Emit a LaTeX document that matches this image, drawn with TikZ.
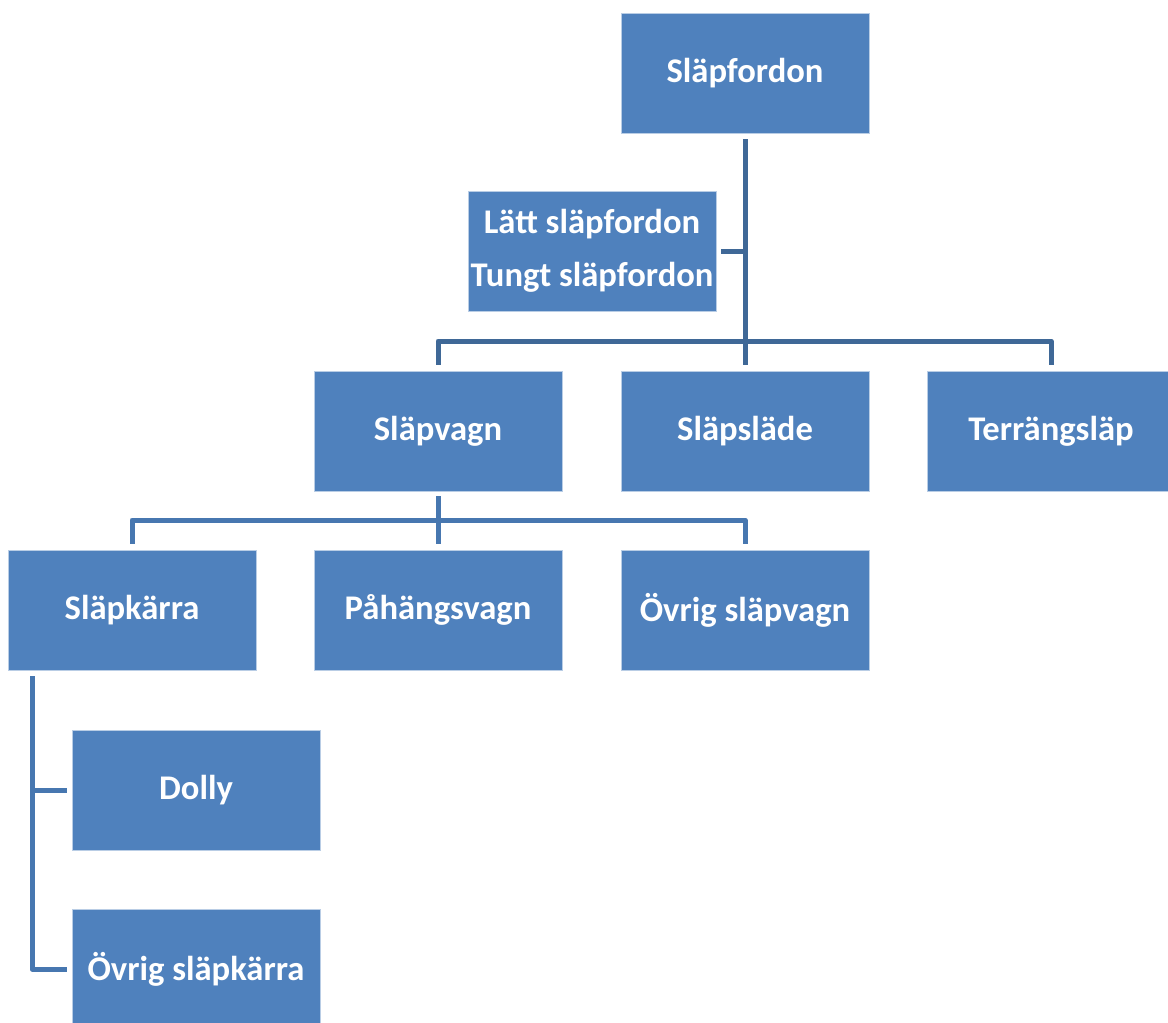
\documentclass[tikz,border=0pt]{standalone}
\usepackage{fontspec}
\setmainfont{Carlito}
\definecolor{boxblue}{HTML}{4F81BD}
\definecolor{boxedge}{HTML}{B9CDE5}
\definecolor{linkdark}{HTML}{3F6897}
\definecolor{linkmid}{HTML}{4777B0}

\begin{document}
\begin{tikzpicture}[x = 1pt, y = -1pt,
    box/.style = {fill = boxblue, draw = boxedge, line width = 0.8pt,
      minimum width = 248pt, minimum height = 120pt, inner sep = 0pt,
      text = white, font = \fontsize{34.6}{53}\selectfont\bfseries, align = center},
    link/.style = {draw = linkdark, line width = 5pt, line join = round},
    link2/.style = {link, draw = linkmid}]
    \useasboundingbox (0,0) rectangle (1168,1023);
    \clip (0,0) rectangle (1168,1023);

    \node [box] (fordon) at (745,73) {Släpfordon};
    \node [box] (vikt) at (592,251) {Lätt släpfordon\\Tungt släpfordon};
    \node [box] (vagn) at (438,431) {Släpvagn};
    \node [box] (slade) at (745,431) {Släpsläde};
    \node [box] (terrang) at (1051,431) {Terrängsläp};
    \node [box] (karra) at (132,610) {Släpkärra};
    \node [box] (pahang) at (438,610) {Påhängsvagn};
    \node [box] (ovrvagn) at (745,610) {Övrig släpvagn};
    \node [box] (dolly) at (196,790) {Dolly};
    \node [box] (ovrkarra) at (196,969) {Övrig släpkärra};

    \coordinate (bar1) at (745,341);
    \coordinate (bar2) at (438,520);
    \coordinate (spine) at (32,676);

    \draw [link, shorten <=6pt, shorten >=6pt] (fordon.south) -- (slade.north);
    \draw [link, shorten <=5pt] (vikt.east) -- (vikt.east -| fordon.south);
    \draw [link, shorten <=6pt, shorten >=6pt] (vagn.north) |- (bar1) -| (terrang.north);

    \draw [link2, shorten <=5pt] (vagn.south) -- (bar2);
    \draw [link2, shorten >=6pt] (bar2) -- (pahang.north);
    \draw [link2, shorten <=6pt, shorten >=6pt] (karra.north) |- (bar2) -| (ovrvagn.north);

    \draw [link2, shorten >=5pt] (spine) |- (ovrkarra.west);
    \draw [link2, shorten >=5pt] (dolly.west -| spine) -- (dolly.west);
  \end{tikzpicture}
\end{document}
